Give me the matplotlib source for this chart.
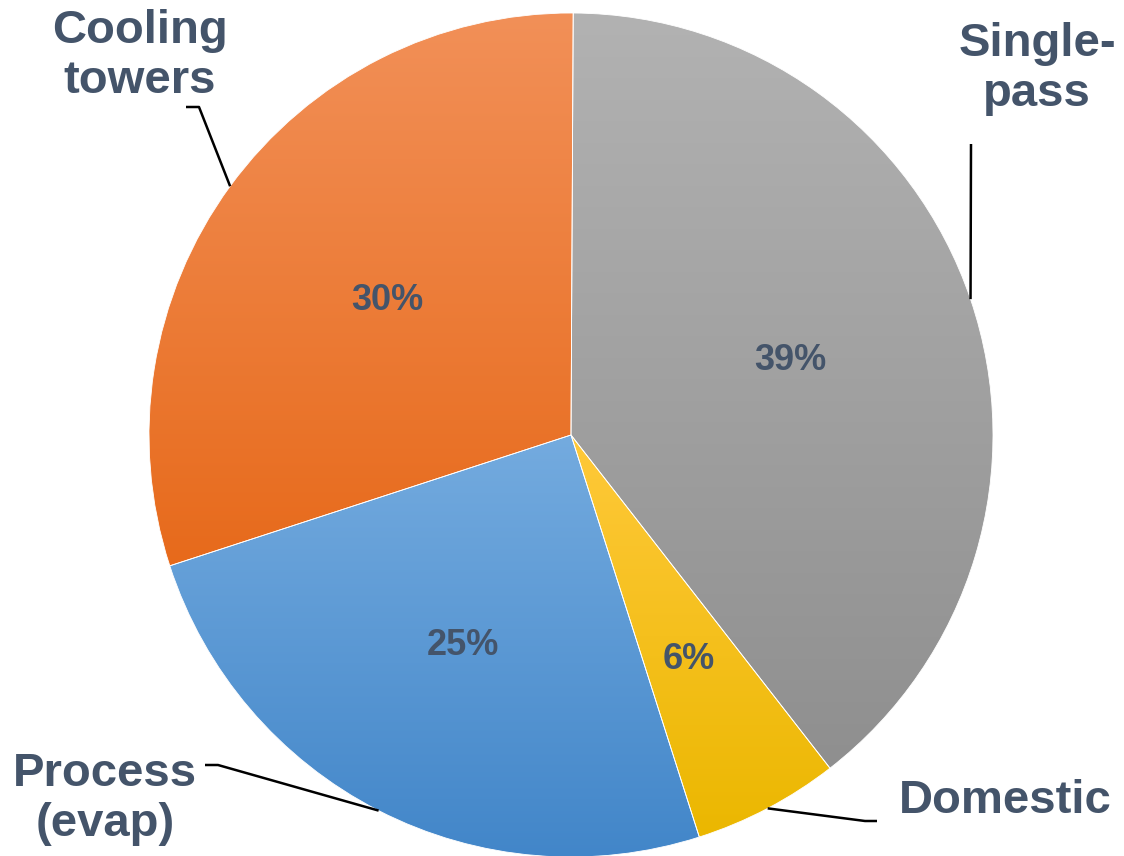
import matplotlib.pyplot as plt
import matplotlib.colors as mcolors
import numpy as np

plt.rcParams['font.family'] = ['Liberation Sans', 'DejaVu Sans']

# data
labels = ['Single-\npass', 'Domestic', 'Process\n(evap)', 'Cooling\ntowers']
shares = [39.4, 5.6, 24.9, 30.1]
# gradient colours per slice (top, bottom)
grad_colors = [('#b2b2b2', '#8f8f8f'),
               ('#ffc93a', '#ebb700'),
               ('#74abdf', '#4286c9'),
               ('#f29058', '#e76a1b')]

W, H = 1124, 856
TXT = '#44546a'

# layout (pixel coords, y measured from the bottom)
center = (571, 421)
radius = 422
pct_dist = [0.55, 0.60, 0.56, 0.54]
label_pos = [(1037, 787), (1005, 55), (105, 57), (140, 800)]
elbows = [[(971, 712)],
          [(865, 35), (877, 35)],
          [(218, 91), (205, 91)],
          [(199, 749), (186, 749)]]


def main():
    fig = plt.figure(figsize=(W / 100, H / 100), dpi=100)
    ax = fig.add_axes([0, 0, 1, 1])

    wedges, _ = ax.pie(shares, startangle=89.7, counterclock=False,
                       center=center, radius=radius, frame=True,
                       wedgeprops=dict(linewidth=0.6, edgecolor='white'))
    ax.set_xlim(0, W)
    ax.set_ylim(0, H)
    ax.set_aspect('equal')
    ax.axis('off')

    for w, (c_top, c_bot) in zip(wedges, grad_colors):
        ext = w.get_path().get_extents()
        cmap = mcolors.LinearSegmentedColormap.from_list('g', [c_bot, c_top])
        grad = np.linspace(0, 1, 256).reshape(-1, 1)
        im = ax.imshow(grad, cmap=cmap, origin='lower', aspect='auto',
                       extent=[ext.x0, ext.x1, ext.y0, ext.y1], zorder=1.5,
                       interpolation='bilinear')
        im.set_clip_path(w)
        w.set_facecolor('none')
        w.set_zorder(2)

    for i, w in enumerate(wedges):
        ang = np.deg2rad((w.theta1 + w.theta2) / 2)
        # percentage inside slice
        d = pct_dist[i] * radius
        ax.text(center[0] + d * np.cos(ang), center[1] + d * np.sin(ang),
                '%.0f%%' % shares[i], ha='center', va='center', fontsize=26,
                fontweight='bold', color=TXT, zorder=3)
        # leader line from the slice edge to the label
        px = center[0] + radius * np.cos(ang)
        py = center[1] + radius * np.sin(ang)
        pts = [(px, py)] + elbows[i]
        xs = [p[0] for p in pts]
        ys = [p[1] for p in pts]
        ax.plot(xs, ys, color='black', lw=1.8, zorder=3,
                solid_capstyle='butt')
        ax.text(label_pos[i][0], label_pos[i][1], labels[i], ha='center',
                va='center', fontsize=34, fontweight='bold', color=TXT,
                linespacing=1.15, zorder=3)

    plt.savefig('out.png', dpi=100)


if __name__ == '__main__':
    main()
